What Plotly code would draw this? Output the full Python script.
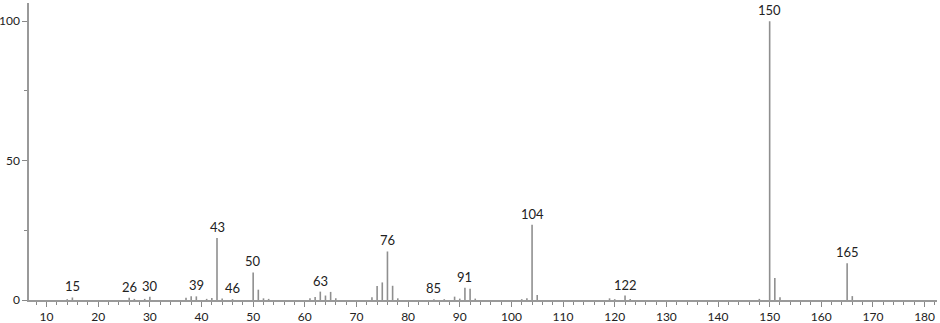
import plotly.graph_objects as go

mz = [14, 15, 26, 27, 29, 30, 37, 38, 39, 41, 42, 43, 44, 46, 50, 51, 52, 53,
      61, 62, 63, 64, 65, 66, 73, 74, 75, 76, 77, 78, 85, 87, 89, 90, 91, 92, 93,
      102, 103, 104, 105, 119, 120, 122, 123, 148, 150, 151, 152, 165, 166]
intensity = [0.3, 0.9, 0.8, 0.4, 0.4, 1.2, 0.8, 1.3, 1.3, 0.4, 0.7, 22.2, 0.5, 0.3, 9.9, 3.7, 0.6, 0.4,
             0.6, 1.1, 3.0, 1.6, 2.9, 0.6, 1.0, 5.0, 6.3, 17.4, 5.1, 0.6, 0.3, 0.3, 1.2, 0.5, 4.4, 4.0, 0.5,
             0.3, 0.6, 27.0, 1.8, 0.6, 0.3, 1.6, 0.4, 0.4, 100.0, 7.9, 1.0, 13.2, 1.4]
labelled = [15, 26, 30, 39, 43, 46, 50, 63, 76, 85, 91, 104, 122, 150, 165]

x_ticks = list(range(10, 190, 10))
y_ticks = [0, 50, 100]

xs, ys = [], []
for m, v in zip(mz, intensity):
    xs += [m, m, None]
    ys += [0, v, None]

fig = go.Figure()
fig.add_trace(go.Scatter(x=xs, y=ys, mode="lines",
                         line=dict(color="#8f8f8f", width=1.6),
                         hoverinfo="skip", showlegend=False))

lookup = dict(zip(mz, intensity))
for m in labelled:
    fig.add_annotation(x=m, y=lookup[m], text=str(m), showarrow=False,
                       yanchor="bottom", yshift=1,
                       font=dict(family="Lato, DejaVu Sans", size=13, color="#222"))

tickfont = dict(family="Lato, DejaVu Sans", size=12, color="#222")

fig.update_layout(
    width=940, height=323,
    margin=dict(l=29, r=3, t=3, b=23),
    plot_bgcolor="white", paper_bgcolor="white",
    font=dict(family="Lato, DejaVu Sans", size=12, color="#222"),
    xaxis=dict(range=[6.6, 182.4], tickvals=x_ticks, ticks="outside", ticklen=5,
               tickcolor="#888", showline=True, linecolor="#999", linewidth=1.5,
               showgrid=False, zeroline=False, automargin=False,
               tickfont=tickfont, ticklabelstandoff=0,
               minor=dict(dtick=2, tick0=0, ticks="outside", ticklen=3, tickcolor="#888")),
    yaxis=dict(range=[0, 106.5], tickvals=y_ticks, ticks="outside", ticklen=5,
               tickcolor="#888", showline=True, linecolor="#999", linewidth=1.5,
               showgrid=False, zeroline=False, automargin=False,
               tickfont=tickfont, ticklabelstandoff=0,
               minor=dict(tickvals=[25, 75], ticks="outside", ticklen=3, tickcolor="#888")),
)

fig.write_html("out.html")
